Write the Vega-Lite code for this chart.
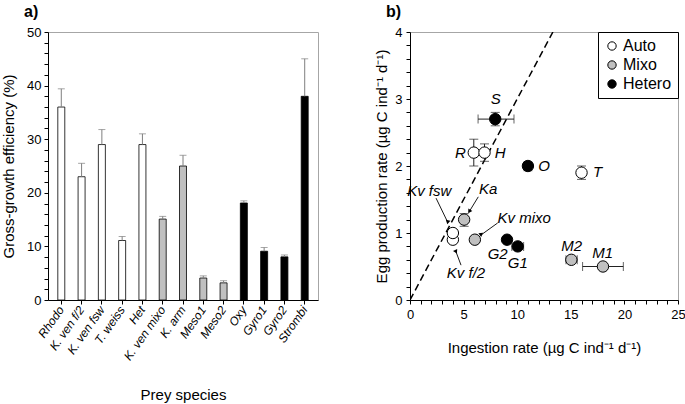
{
  "$schema": "https://vega.github.io/schema/vega-lite/v6.json",
  "padding": {"left": 1, "top": 3, "right": 2, "bottom": 5},
  "config": {
    "font": "Liberation Sans",
    "view": {"stroke": "#a6a6a6"},
    "axis": {"domainColor": "#000", "tickColor": "#000", "labelColor": "#000", "titleColor": "#000", "labelFontSize": 13, "titleFontSize": 15, "titleFontWeight": "normal", "grid": false, "tickSize": 4, "labelOverlap": false, "labelFlush": false},
    "title": {"fontSize": 16, "fontWeight": "bold", "anchor": "start", "frame": "group", "dx": -24, "offset": 6, "color": "#000"}
  },
  "datasets": {
    "gge": [
      {"species": "Rhodo", "group": "Auto", "value": 36, "upper": 39.4},
      {"species": "K. ven f/2", "group": "Auto", "value": 23, "upper": 25.5},
      {"species": "K. ven fsw", "group": "Auto", "value": 29, "upper": 31.8},
      {"species": "T. weiss", "group": "Auto", "value": 11.1, "upper": 11.85},
      {"species": "Het", "group": "Auto", "value": 29, "upper": 31},
      {"species": "K. ven mixo", "group": "Mixo", "value": 15.1, "upper": 15.6},
      {"species": "K. arm", "group": "Mixo", "value": 25, "upper": 27},
      {"species": "Meso1", "group": "Mixo", "value": 4.1, "upper": 4.5},
      {"species": "Meso2", "group": "Mixo", "value": 3.2, "upper": 3.6},
      {"species": "Oxy", "group": "Hetero", "value": 18.1, "upper": 18.5},
      {"species": "Gyro1", "group": "Hetero", "value": 9.1, "upper": 9.8},
      {"species": "Gyro2", "group": "Hetero", "value": 8.05, "upper": 8.4},
      {"species": "Strombi", "group": "Hetero", "value": 38, "upper": 45}
    ],
    "pts": [
      {"label": "S", "group": "Hetero", "x": 7.95, "y": 2.7, "xlo": 6.35, "xhi": 9.7, "ylo": 2.6, "yhi": 2.8},
      {"label": "R", "group": "Auto", "x": 5.95, "y": 2.2, "xlo": null, "xhi": null, "ylo": 2.0, "yhi": 2.4},
      {"label": "H", "group": "Auto", "x": 6.95, "y": 2.2, "xlo": null, "xhi": null, "ylo": 2.07, "yhi": 2.33},
      {"label": "O", "group": "Hetero", "x": 11.0, "y": 2.0, "xlo": null, "xhi": null, "ylo": 1.93, "yhi": 2.06},
      {"label": "T", "group": "Auto", "x": 16.0, "y": 1.9, "xlo": null, "xhi": null, "ylo": 1.8, "yhi": 2.0},
      {"label": "Ka", "group": "Mixo", "x": 5.05, "y": 1.2, "xlo": null, "xhi": null, "ylo": 1.1, "yhi": 1.29},
      {"label": "Kv f/2", "group": "Auto", "x": 4.0, "y": 0.9, "xlo": null, "xhi": null, "ylo": null, "yhi": null},
      {"label": "Kv fsw", "group": "Auto", "x": 4.0, "y": 1.0, "xlo": null, "xhi": null, "ylo": null, "yhi": null},
      {"label": "Kv mixo", "group": "Mixo", "x": 6.05, "y": 0.9, "xlo": null, "xhi": null, "ylo": null, "yhi": null},
      {"label": "G2", "group": "Hetero", "x": 9.05, "y": 0.9, "xlo": null, "xhi": null, "ylo": null, "yhi": null},
      {"label": "G1", "group": "Hetero", "x": 10.05, "y": 0.8, "xlo": 9.5, "xhi": 10.6, "ylo": null, "yhi": null},
      {"label": "M2", "group": "Mixo", "x": 15.05, "y": 0.6, "xlo": 14.55, "xhi": 15.6, "ylo": null, "yhi": null},
      {"label": "M1", "group": "Mixo", "x": 18.0, "y": 0.5, "xlo": 16.1, "xhi": 19.9, "ylo": null, "yhi": null}
    ],
    "lbl": [
      {"text": "S", "x": 8.0, "y": 3.0},
      {"text": "R", "x": 4.7, "y": 2.2},
      {"text": "H", "x": 8.4, "y": 2.19},
      {"text": "O", "x": 12.5, "y": 2.0},
      {"text": "T", "x": 17.5, "y": 1.91},
      {"text": "Ka", "x": 7.3, "y": 1.66},
      {"text": "Kv fsw", "x": 1.8, "y": 1.63},
      {"text": "Kv mixo", "x": 10.66, "y": 1.23},
      {"text": "Kv f/2", "x": 5.22, "y": 0.41},
      {"text": "G2", "x": 8.18, "y": 0.69},
      {"text": "G1", "x": 10.05, "y": 0.55},
      {"text": "M2", "x": 15.08, "y": 0.81},
      {"text": "M1", "x": 17.97, "y": 0.7}
    ],
    "arr": [
      {"name": "Ka", "x": 6.37, "y": 1.54, "x1": 5.53, "y1": 1.32},
      {"name": "Kv fsw", "x": 2.43, "y": 1.52, "x1": 3.52, "y1": 1.16},
      {"name": "Kv mixo", "x": 8.18, "y": 1.15, "x1": 6.62, "y1": 0.97},
      {"name": "Kv f/2", "x": 4.76, "y": 0.52, "x1": 4.29, "y1": 0.72}
    ],
    "ref": [
      {"x": 0, "y": 0},
      {"x": 13.33, "y": 4}
    ]
  },
  "spacing": 55,
  "hconcat": [
    {
      "width": 270,
      "height": 268,
      "title": "a)",
      "data": {"name": "gge"},
      "layer": [
        {
          "mark": {"type": "bar", "stroke": "#000", "strokeWidth": 0.8},
          "encoding": {
            "x": {"field": "species", "type": "nominal", "sort": null,
              "scale": {"paddingInner": 0.655, "paddingOuter": 0.483},
              "axis": {"title": "Prey species", "labelAngle": -55, "labelFontSize": 12, "labelFontStyle": "italic", "titlePadding": 26, "labelPadding": 3, "labelOverlap": false}},
            "y": {"field": "value", "type": "quantitative",
              "scale": {"domain": [0, 50], "nice": false},
              "axis": {"title": "Gross-growth efficiency (%)", "values": [0,2,4,6,8,10,12,14,16,18,20,22,24,26,28,30,32,34,36,38,40,42,44,46,48,50], "tickCount": 100, "labelExpr": "datum.value % 10 === 0 ? format(datum.value, 'd') : ''", "labelOverlap": false, "labelBound": false, "titlePadding": 10, "labelPadding": 3}},
            "fill": {"field": "group", "type": "nominal", "scale": {"domain": ["Auto", "Mixo", "Hetero"], "range": ["#ffffff", "#c0c0c0", "#000000"]}, "legend": null}
          }
        },
        {
          "mark": {"type": "rule", "color": "#7f7f7f"},
          "encoding": {
            "x": {"field": "species", "type": "nominal", "sort": null},
            "y": {"field": "value", "type": "quantitative"},
            "y2": {"field": "upper"}
          }
        },
        {
          "mark": {"type": "tick", "color": "#7f7f7f", "size": 7, "thickness": 1, "orient": "horizontal"},
          "encoding": {
            "x": {"field": "species", "type": "nominal", "sort": null},
            "y": {"field": "upper", "type": "quantitative"}
          }
        }
      ]
    },
    {
      "width": 268,
      "height": 268,
      "title": "b)",
      "layer": [
        {
          "data": {"name": "ref"},
          "mark": {"type": "line", "color": "#000", "strokeDash": [7, 4], "strokeWidth": 1.5, "clip": true},
          "encoding": {
            "x": {"field": "x", "type": "quantitative", "scale": {"domain": [0, 25], "nice": false},
              "axis": {"title": "Ingestion rate (µg C ind⁻¹ d⁻¹)", "values": [0,1,2,3,4,5,6,7,8,9,10,11,12,13,14,15,16,17,18,19,20,21,22,23,24,25], "tickCount": 100, "labelExpr": "datum.value % 5 === 0 ? format(datum.value, 'd') : ''", "labelOverlap": false, "labelBound": false, "titlePadding": 19, "labelPadding": 4}},
            "y": {"field": "y", "type": "quantitative", "scale": {"domain": [0, 4], "nice": false},
              "axis": {"title": "Egg production rate (µg C ind⁻¹ d⁻¹)", "values": [0,0.2,0.4,0.6,0.8,1,1.2,1.4,1.6,1.8,2,2.2,2.4,2.6,2.8,3,3.2,3.4,3.6,3.8,4], "tickCount": 100, "labelExpr": "datum.value % 1 === 0 ? format(datum.value, 'd') : ''", "labelOverlap": false, "labelBound": false, "titlePadding": 5, "labelPadding": 4}}
          }
        },
        {
          "data": {"name": "pts"},
          "transform": [{"filter": "datum.xlo != null"}],
          "mark": {"type": "rule", "color": "#222"},
          "encoding": {
            "x": {"field": "xlo", "type": "quantitative"},
            "x2": {"field": "xhi"},
            "y": {"field": "y", "type": "quantitative"}
          }
        },
        {
          "data": {"name": "pts"},
          "transform": [{"filter": "datum.xlo != null"}, {"fold": ["xlo", "xhi"], "as": ["end", "xe"]}],
          "mark": {"type": "tick", "color": "#222", "orient": "vertical", "size": 9, "thickness": 1},
          "encoding": {
            "x": {"field": "xe", "type": "quantitative"},
            "y": {"field": "y", "type": "quantitative"}
          }
        },
        {
          "data": {"name": "pts"},
          "transform": [{"filter": "datum.ylo != null"}],
          "mark": {"type": "rule", "color": "#222"},
          "encoding": {
            "x": {"field": "x", "type": "quantitative"},
            "y": {"field": "ylo", "type": "quantitative"},
            "y2": {"field": "yhi"}
          }
        },
        {
          "data": {"name": "pts"},
          "transform": [{"filter": "datum.ylo != null"}, {"fold": ["ylo", "yhi"], "as": ["end", "ye"]}],
          "mark": {"type": "tick", "color": "#222", "orient": "horizontal", "size": 9, "thickness": 1},
          "encoding": {
            "x": {"field": "x", "type": "quantitative"},
            "y": {"field": "ye", "type": "quantitative"}
          }
        },
        {
          "data": {"name": "arr"},
          "mark": {"type": "rule", "color": "#000", "strokeWidth": 0.9},
          "encoding": {
            "x": {"field": "x", "type": "quantitative"},
            "y": {"field": "y", "type": "quantitative"},
            "x2": {"field": "x1"},
            "y2": {"field": "y1"}
          }
        },
        {
          "data": {"name": "arr"},
          "mark": {"type": "point", "shape": "triangle-up", "filled": true, "color": "#000", "size": 22, "opacity": 1},
          "encoding": {
            "x": {"field": "x1", "type": "quantitative"},
            "y": {"field": "y1", "type": "quantitative"},
            "angle": {"field": "name", "type": "nominal", "scale": {"domain": ["Ka", "Kv fsw", "Kv mixo", "Kv f/2"], "range": [211, 154, 234, 339]}, "legend": null}
          }
        },
        {
          "data": {"name": "pts"},
          "mark": {"type": "point", "shape": "circle", "filled": true, "size": 130, "stroke": "#000", "strokeWidth": 1, "opacity": 1},
          "encoding": {
            "x": {"field": "x", "type": "quantitative"},
            "y": {"field": "y", "type": "quantitative"},
            "fill": {"field": "group", "type": "nominal",
              "scale": {"domain": ["Auto", "Mixo", "Hetero"], "range": ["#ffffff", "#c0c0c0", "#000000"]},
              "legend": {"title": null, "orient": "top-right", "offset": 0, "padding": 6, "strokeColor": "#000", "fillColor": "#ffffff", "labelFontSize": 16, "labelColor": "#000", "symbolSize": 70, "symbolType": "circle", "symbolStrokeColor": "#000", "symbolStrokeWidth": 1, "rowPadding": 3, "labelOffset": 3, "cornerRadius": 0}}
          }
        },
        {
          "data": {"name": "lbl"},
          "mark": {"type": "text", "fontSize": 15, "fontStyle": "italic", "color": "#000", "align": "center", "baseline": "middle"},
          "encoding": {
            "x": {"field": "x", "type": "quantitative"},
            "y": {"field": "y", "type": "quantitative"},
            "text": {"field": "text"}
          }
        }
      ]
    }
  ],
  "resolve": {"scale": {"fill": "independent"}, "legend": {"fill": "independent"}}
}
